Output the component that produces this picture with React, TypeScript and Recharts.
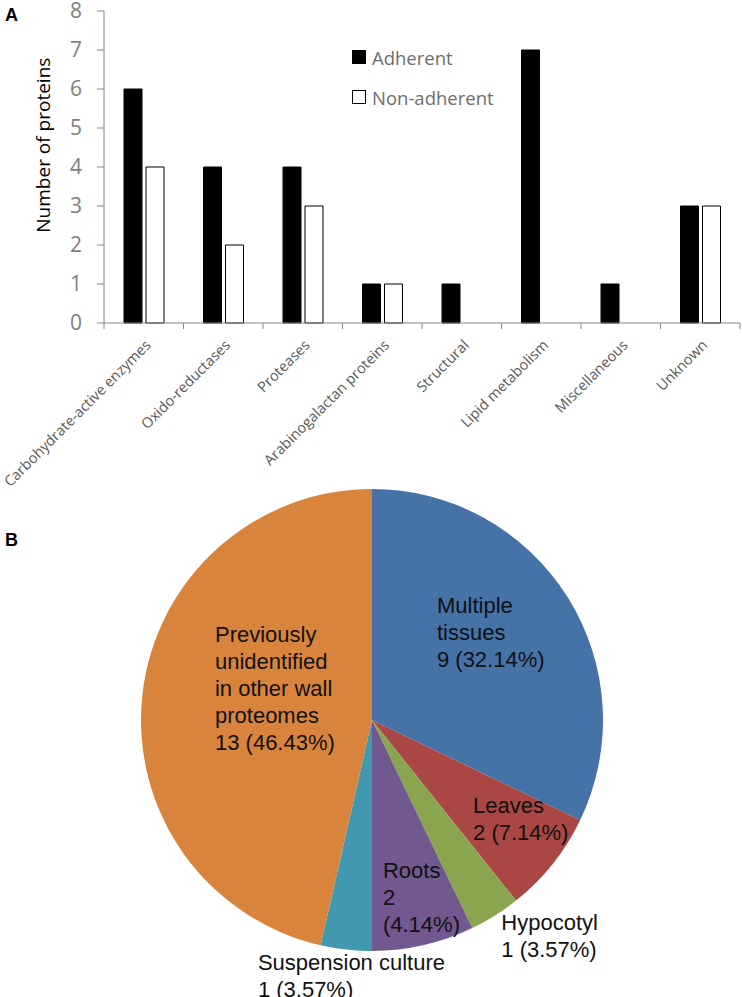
import React from 'react';
import { BarChart, Bar, XAxis, YAxis, Legend, PieChart, Pie, Cell } from 'recharts';

// ---- Panel A data ----
const categories = [
  'Carbohydrate-active enzymes',
  'Oxido-reductases',
  'Proteases',
  'Arabinogalactan proteins',
  'Structural',
  'Lipid metabolism',
  'Miscellaneous',
  'Unknown',
];
const adherent = [6, 4, 4, 1, 1, 7, 1, 3];
const nonAdherent = [4, 2, 3, 1, 0, 0, 0, 3];
const yTicks = [0, 1, 2, 3, 4, 5, 6, 7, 8];

// ---- Panel B data ----
const tissueNameLines = [
  ['Multiple', 'tissues'],
  ['Leaves'],
  ['Hypocotyl'],
  ['Roots'],
  ['Suspension culture'],
  ['Previously', 'unidentified', 'in other wall', 'proteomes'],
];
const tissueCounts = [9, 2, 1, 2, 1, 13];
const tissuePercents = ['32.14%', '7.14%', '3.57%', '4.14%', '3.57%', '46.43%'];
const tissueSplitValue = [false, false, false, true, false, false];
const tissueColors = ['#4572A7', '#AA4643', '#89A54E', '#71588F', '#4198AF', '#D9843D'];

// label placement (radius factor, angle shift from the slice middle)
const labelPlacement = [
  { rf: 0.542, da: 26.6 },
  { rf: 0.594, da: -4.0 },
  { rf: 1.067, da: -0.5 },
  { rf: 0.686, da: -8.9 },
  { rf: 1.19, da: -18.1 },
  { rf: 0.759, da: -20.0 },
];

const barData = categories.map((name, i) => ({
  name,
  adherent: adherent[i],
  nonAdherent: nonAdherent[i],
}));

const pieData = tissueNameLines.map((lines, i) => ({
  name: lines.join(' '),
  value: tissueCounts[i],
}));

const AXIS = '#868686';
const CALIBRI = "'Open Sans', 'DejaVu Sans', sans-serif";

const XTick = (props: any) => {
  const { x, y, payload, index } = props;
  const half = payload && payload.offset ? payload.offset : 39.75;
  const tx = x + 8;
  const ty = y + 23;
  return (
    <g>
      <line x1={x - half} y1={y} x2={x - half} y2={y + 6} stroke={AXIS} strokeWidth={1} />
      {index === categories.length - 1 && (
        <line x1={x + half} y1={y} x2={x + half} y2={y + 6} stroke={AXIS} strokeWidth={1} />
      )}
      <text
        x={tx}
        y={ty}
        transform={`rotate(-45, ${tx}, ${ty})`}
        textAnchor="end"
        fill="#595959"
        fontSize={14.5}
        fontFamily={CALIBRI}
      >
        {payload.value}
      </text>
    </g>
  );
};

const LegendContent = () => (
  <div style={{ fontFamily: CALIBRI, fontSize: 18.5, color: '#6e6e6e' }}>
    {[
      { label: 'Adherent', fill: '#000' },
      { label: 'Non-adherent', fill: '#fff' },
    ].map((it) => (
      <div key={it.label} style={{ display: 'flex', alignItems: 'center', height: 40 }}>
        <div
          style={{
            width: 12,
            height: 12,
            background: it.fill,
            border: '1px solid #000',
            marginRight: 6,
          }}
        />
        <span>{it.label}</span>
      </div>
    ))}
  </div>
);

const YLabel = (props: any) => {
  const vb = props.viewBox || { x: 0, y: 11, width: 104, height: 312 };
  const x = vb.x + 43;
  const y = vb.y + vb.height * 0.43;
  return (
    <text
      x={x}
      y={y}
      transform={`rotate(-90, ${x}, ${y})`}
      textAnchor="middle"
      dominantBaseline="central"
      fill="#000"
      fontSize={19}
      fontFamily={CALIBRI}
    >
      Number of proteins
    </text>
  );
};

const renderPieLabel = (props: any) => {
  const { cx, cy, midAngle, outerRadius, index } = props;
  const p = labelPlacement[index];
  const ang = ((midAngle + p.da) * Math.PI) / 180;
  const r = outerRadius * p.rf;
  const x = cx + r * Math.cos(ang);
  const y = cy - r * Math.sin(ang);
  const valueLines = tissueSplitValue[index]
    ? [String(tissueCounts[index]), `(${tissuePercents[index]})`]
    : [`${tissueCounts[index]} (${tissuePercents[index]})`];
  const lines = [...tissueNameLines[index], ...valueLines];
  return (
    <text
      x={x}
      y={y}
      textAnchor="start"
      fill="#111"
      fontSize={22}
      fontFamily="'Liberation Sans', Arial, sans-serif"
    >
      {lines.map((l, i) => (
        <tspan key={i} x={x} y={y + i * 27}>
          {l}
        </tspan>
      ))}
    </text>
  );
};

export default function App() {
  return (
    <div
      style={{
        position: 'absolute',
        left: 0,
        top: 0,
        width: 742,
        height: 997,
        background: '#fff',
        overflow: 'hidden',
      }}
    >
      <div style={{ position: 'absolute', left: 0, top: 0 }}>
        <BarChart
          width={742}
          height={490}
          data={barData}
          margin={{ top: 11, right: 2, left: 0, bottom: 0 }}
          barSize={18}
          barGap={4}
        >
          <XAxis
            dataKey="name"
            interval={0}
            tickLine={false}
            tickSize={0}
            tickMargin={0}
            axisLine={{ stroke: AXIS }}
            tick={<XTick />}
            height={167}
          />
          <YAxis
            domain={[0, 8]}
            ticks={yTicks}
            interval={0}
            width={104}
            tickSize={7}
            tickMargin={15}
            axisLine={{ stroke: AXIS }}
            tickLine={{ stroke: AXIS }}
            tick={{ fill: '#7f7f7f', fontSize: 21, fontFamily: CALIBRI }}
            label={<YLabel />}
          />
          <Legend
            layout="vertical"
            align="center"
            verticalAlign="middle"
            content={<LegendContent />}
            wrapperStyle={{ position: 'absolute', left: 352, top: 37, width: 200 }}
          />
          <Bar dataKey="adherent" fill="#000" stroke="#000" strokeWidth={1} isAnimationActive={false} />
          <Bar dataKey="nonAdherent" fill="#fff" stroke="#000" strokeWidth={1} isAnimationActive={false} />
        </BarChart>
      </div>
      <div style={{ position: 'absolute', left: 0, top: 480 }}>
        <PieChart width={742} height={517}>
          <Pie
            data={pieData}
            dataKey="value"
            cx={367}
            cy={235}
            outerRadius={231}
            startAngle={90}
            endAngle={-270}
            stroke="none"
            label={renderPieLabel}
            labelLine={false}
            isAnimationActive={false}
          >
            {pieData.map((d, i) => (
              <Cell key={d.name} fill={tissueColors[i]} />
            ))}
          </Pie>
        </PieChart>
      </div>
      <div
        style={{
          position: 'absolute',
          left: 5,
          top: 5,
          fontFamily: "'Liberation Sans', Arial, sans-serif",
          fontWeight: 'bold',
          fontSize: 18,
        }}
      >
        A
      </div>
      <div
        style={{
          position: 'absolute',
          left: 5,
          top: 530,
          fontFamily: "'Liberation Sans', Arial, sans-serif",
          fontWeight: 'bold',
          fontSize: 18,
        }}
      >
        B
      </div>
    </div>
  );
}
